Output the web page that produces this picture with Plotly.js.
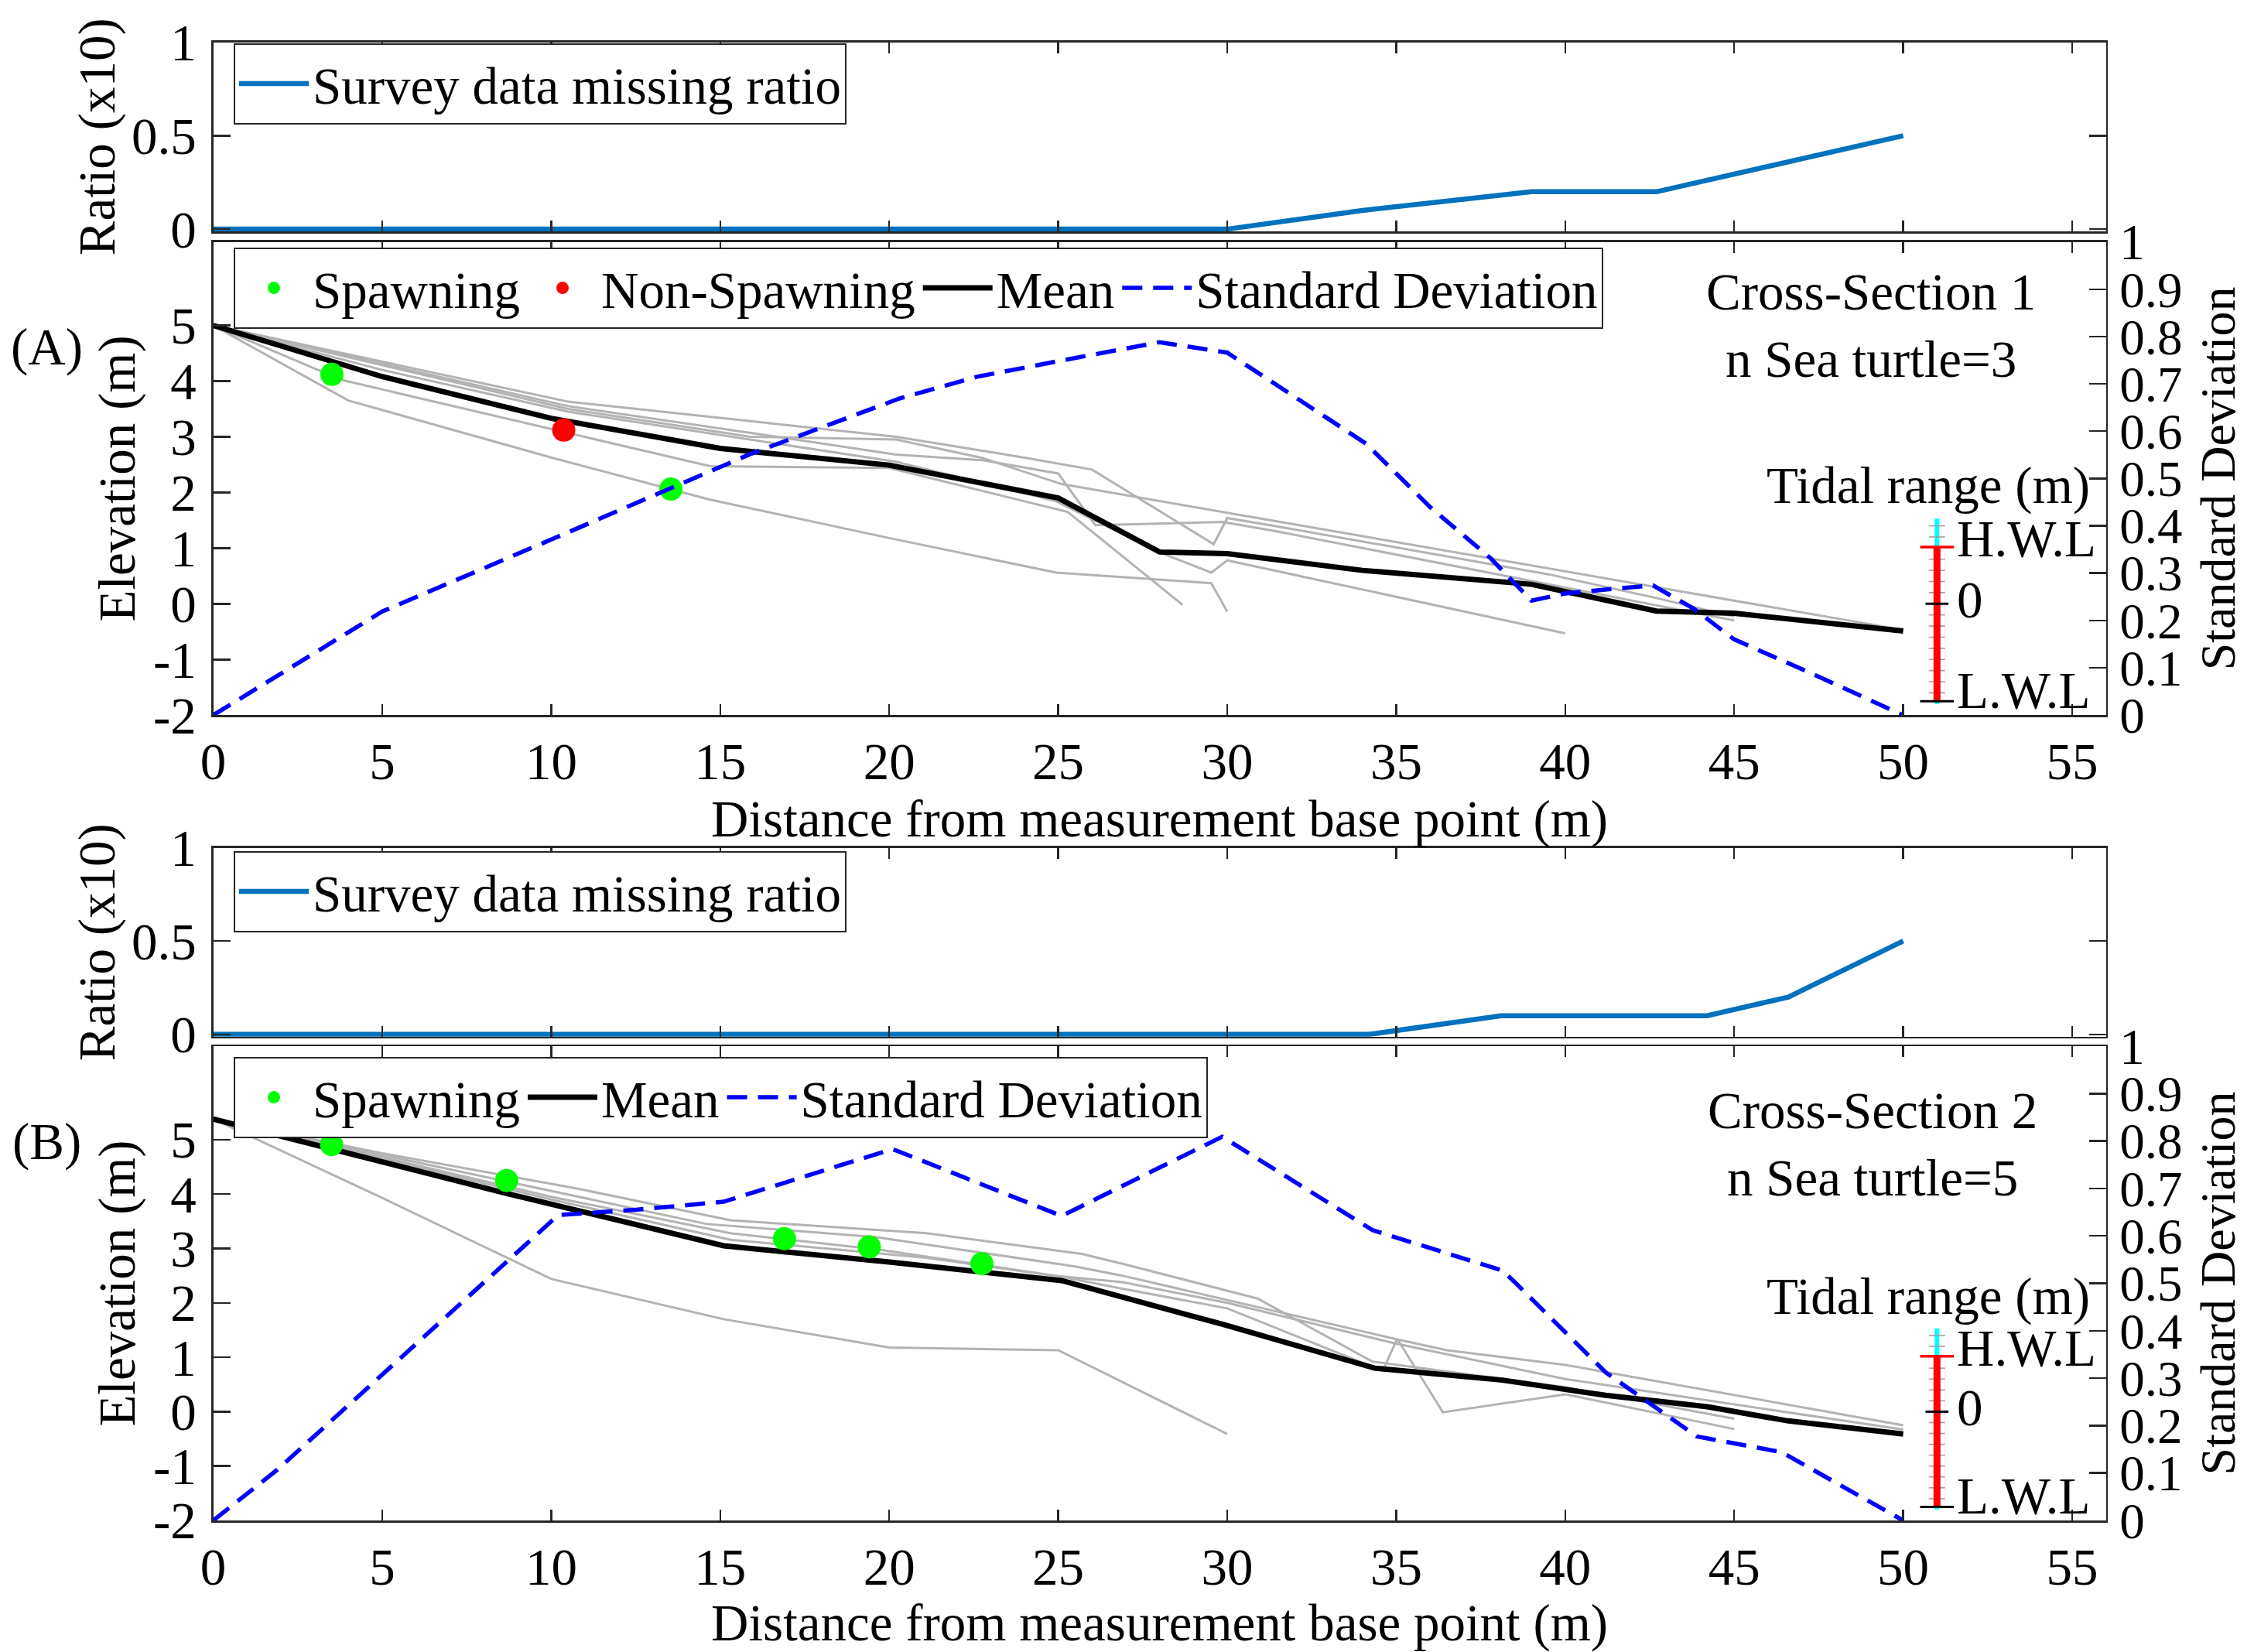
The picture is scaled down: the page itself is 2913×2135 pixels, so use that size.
<!DOCTYPE html>
<html><head><meta charset="utf-8">
<script src="https://cdn.plot.ly/plotly-3.0.1.min.js"></script>
<style>html,body{margin:0;padding:0;background:#fff}</style>
</head><body><div id="chart" style="width:2913px;height:2135px"></div>
<script>
// ---------------- DATA ----------------
const xTicks = [0,5,10,15,20,25,30,35,40,45,50,55];
const elevTicks = [-2,-1,0,1,2,3,4,5];
const elevTickText = ['-2','-1','0','1','2','3','4','5'];
const sdTicks = [0,0.1,0.2,0.3,0.4,0.5,0.6,0.7,0.8,0.9,1];
const sdTickText = ['0','0.1','0.2','0.3','0.4','0.5','0.6','0.7','0.8','0.9','1'];
const ratioTicks = [0,0.5,1];
const ratioTickText = ['0','0.5','1'];

// Cross-section 1 (A)
const ratioA_x = [0,30,34,39,42.7,50];
const ratioA_y = [0,0,0.1,0.2,0.2,0.5];
const meanA_x = [0,5,10,15,20,25,28,30,34,39,42.7,45,50];
const meanA_y = [5.0,4.08,3.33,2.79,2.49,1.90,0.93,0.90,0.60,0.35,-0.13,-0.17,-0.49];
const sdA_x = [0,5,10,13.6,15.9,20.3,22.6,25,28,30,32.2,34.1,36,37.8,39,40,41.3,42.6,43.8,45,47.1,50];
const sdA_y = [0,0.219,0.371,0.481,0.552,0.669,0.715,0.748,0.788,0.766,0.663,0.574,0.44,0.331,0.242,0.257,0.266,0.274,0.225,0.16,0.094,0];
const spawnA_x = [3.51,13.54];
const spawnA_y = [4.12,2.06];
const nonSpawnA_x = [10.37];
const nonSpawnA_y = [3.12];
const profA1_x = [0,10.5,15.9,20.2,22.75,24.14,26.0,29.6,30.0,31.47,39.5,42.72,45];
const profA1_y = [5.0,3.63,3.28,3.0,2.75,2.61,2.41,1.07,1.54,1.39,0.53,0.10,-0.23];
const profA2_x = [0,10.5,15.9,20.2,22.75,25.0,26.1,29.86,31.47,39.5,42.72,45];
const profA2_y = [5.0,3.55,3.07,2.68,2.58,2.34,1.41,1.47,1.30,0.35,-0.04,-0.30];
const profA3_x = [0,10.5,15.9,20.2,22.75,25.1,31.47,45,50];
const profA3_y = [5.0,3.5,3.0,2.95,2.62,2.15,1.48,0.05,-0.47];
const profA4_x = [0,3.8,14.7,20,25.28,28.68];
const profA4_y = [5.0,4.02,2.47,2.44,1.65,-0.02];
const profA5_x = [0,5,10.5,15.9,20.2,24.9,28.1,29.53,30,40];
const profA5_y = [5.0,4.2,3.45,2.95,2.55,1.85,0.90,0.56,0.78,-0.53];
const profA6_x = [0,4.0,10.1,14.7,20,24.94,29.53,30];
const profA6_y = [5.0,3.65,2.61,1.87,1.18,0.56,0.37,-0.14];

// Cross-section 2 (B)
const ratioB_x = [0,34.2,38.1,44.2,46.6,50];
const ratioB_y = [0,0,0.1,0.1,0.2,0.5];
const meanB_x = [0,3.55,8.63,15.1,20,25.1,29.9,34.36,38.14,41.2,44.2,46.6,50];
const meanB_y = [5.38,4.81,4.02,3.05,2.75,2.41,1.60,0.80,0.58,0.30,0.09,-0.17,-0.41];
const sdB_x = [0,1.88,10.21,12.5,15.1,20.1,25.1,29.85,34.3,38.14,38.5,41.2,43.9,46.4,50];
const sdB_y = [0,0.106,0.644,0.655,0.672,0.783,0.642,0.809,0.612,0.527,0.503,0.312,0.177,0.144,0];
const spawnB_x = [3.50,8.68,16.90,19.41,22.74];
const spawnB_y = [4.91,4.25,3.18,3.03,2.72];
const profB1_x = [0,5,10,15.1,20,25,30];
const profB1_y = [5.38,3.93,2.44,1.70,1.18,1.13,-0.41];
const profB2_x = [0,5,10.7,15.3,21.1,25.7,26.9,30.9,34.3,40,45];
const profB2_y = [5.38,4.75,4.11,3.52,3.28,2.90,2.72,2.08,0.92,0.45,-0.13];
const profB3_x = [0,5,10,14.6,19.6,25.5,26.9,34.95,36.5,40,50];
const profB3_y = [5.38,4.72,4.05,3.45,3.21,2.67,2.50,1.34,1.13,0.86,-0.25];
const profB4_x = [0,5,10,15.3,21.1,25.1,26.9,30,34.6,35.03,36.38,40,45];
const profB4_y = [5.38,4.65,3.9,3.16,2.83,2.48,2.26,1.9,0.75,1.34,-0.01,0.32,-0.32];
const profB5_x = [0,5,10,15.3,19.7,24.9,26.9,30,35,40,50];
const profB5_y = [5.38,4.68,3.95,3.28,2.98,2.50,2.38,2.0,1.25,0.6,-0.33];

// Tidal gauge (m)
const tidalX = 51;
const tidalHWL = 1.02;
const tidalLWL = -1.75;
const tidalTop = 1.53;
const tidalBottom = -1.8;
const tidalMinor = [-1.6,-1.4,-1.2,-1.0,-0.8,-0.6,-0.4,-0.2,0.2,0.4,0.6,0.8,1.2,1.4];

// ---------------- LAYOUT HELPERS ----------------
const W = 2913, H = 2135;
const FONT = 'Liberation Serif, Times New Roman, serif';
const FS = 67;
const AX = '#262626';
const fx = p => p / W;
const fy = p => 1 - p / H;
const xDom = [fx(275.6), fx(2721.7)];
const domRA = [fy(299), fy(54.6)];
const domMA = [fy(924.2), fy(312.6)];
const domRB = [fy(1339.7), fy(1095.6)];
const domMB = [fy(1965), fy(1352)];

const tf = {family: FONT, size: FS, color: '#000'};
const common = {showline: true, linecolor: AX, linewidth: 2.5, ticks: 'inside', tickcolor: AX,
  tickwidth: 2.5, showgrid: false, zeroline: false, tickfont: tf};

function xAx(anchor, labels, standoff) {
  return Object.assign({}, common, {domain: xDom, range: [0, 56], anchor: anchor, tickmode: 'array',
    tickvals: xTicks, ticktext: xTicks.map(String), showticklabels: labels, mirror: 'ticks', ticklen: 14,
    ticklabelstandoff: 0,
    title: labels ? {text: 'Distance from measurement base point (m)', font: tf, standoff: standoff} : {text: ''}});
}
function ratioY(anchor, dom) {
  return Object.assign({}, common, {domain: dom, range: [-0.012, 1], anchor: anchor, tickmode: 'array',
    tickvals: ratioTicks, ticktext: ratioTickText, mirror: 'ticks', ticklen: 22, ticklabelstandoff: 6,
    title: {text: 'Ratio (x10)', font: tf, standoff: 0}});
}
function elevY(anchor, dom, top) {
  return Object.assign({}, common, {domain: dom, range: [-2, top], anchor: anchor, tickmode: 'array',
    tickvals: elevTicks, ticktext: elevTickText, mirror: true, ticklen: 22, ticklabelstandoff: 6,
    title: {text: 'Elevation (m)', font: tf, standoff: 2}});
}
function sdY(anchor, over) {
  return Object.assign({}, common, {overlaying: over, side: 'right', range: [0, 1], anchor: anchor,
    tickmode: 'array', tickvals: sdTicks, ticktext: sdTickText, ticklen: 22, ticklabelstandoff: 2,
    tickfont: {family: FONT, size: 65, color: '#000'},
    title: {text: 'Standard Deviation', font: {family: FONT, size: 64, color: '#000'}, standoff: 24}});
}

// ---------------- TRACES ----------------
const traces = [];
const GRAY = {color: '#b3b3b3', width: 3};
function addProfiles(list, xa, ya) {
  list.forEach(p => traces.push({x: p[0], y: p[1], xaxis: xa, yaxis: ya, mode: 'lines', line: GRAY,
    showlegend: false, hoverinfo: 'skip'}));
}
function addTidal(xa, ya) {
  traces.push({x: [tidalX, tidalX], y: [tidalBottom, tidalTop], xaxis: xa, yaxis: ya, mode: 'lines',
    line: {color: '#00ffff', width: 6}, showlegend: false});
  const mx = [], my = [];
  tidalMinor.forEach(v => { mx.push(tidalX - 0.24, tidalX + 0.24, null); my.push(v, v, null); });
  traces.push({x: mx, y: my, xaxis: xa, yaxis: ya, mode: 'lines', line: {color: '#a0a0a0', width: 1.6},
    showlegend: false});
  traces.push({x: [tidalX, tidalX], y: [tidalLWL, tidalHWL], xaxis: xa, yaxis: ya, mode: 'lines',
    line: {color: '#ff0000', width: 9}, showlegend: false});
  traces.push({x: [tidalX - 0.34, tidalX + 0.34, null, tidalX - 0.5, tidalX + 0.5], y: [0, 0, null, tidalLWL, tidalLWL],
    xaxis: xa, yaxis: ya, mode: 'lines', line: {color: '#000', width: 3}, showlegend: false});
  traces.push({x: [tidalX - 0.5, tidalX + 0.5], y: [tidalHWL, tidalHWL], xaxis: xa, yaxis: ya, mode: 'lines',
    line: {color: '#ff0000', width: 3.5}, showlegend: false});
}

const SD_LINE = {color: '#0000ff', width: 5.5, dash: '26px,14px'};
const MEAN_LINE = {color: '#000', width: 7};
const RATIO_LINE = {color: '#0072BD', width: 6.5};

// A
traces.push({x: ratioA_x, y: ratioA_y, xaxis: 'x', yaxis: 'y', mode: 'lines', name: 'Survey data missing ratio',
  line: RATIO_LINE, legend: 'legend'});
addProfiles([[profA1_x, profA1_y],[profA2_x, profA2_y],[profA3_x, profA3_y],[profA4_x, profA4_y],[profA5_x, profA5_y],[profA6_x, profA6_y]], 'x2', 'y2');
addTidal('x2', 'y2');
traces.push({x: meanA_x, y: meanA_y, xaxis: 'x2', yaxis: 'y2', mode: 'lines', name: 'Mean',
  line: MEAN_LINE, legend: 'legend2', legendrank: 3});
traces.push({x: spawnA_x, y: spawnA_y, xaxis: 'x2', yaxis: 'y2', mode: 'markers', name: 'Spawning',
  marker: {color: '#00ff00', size: 30}, legend: 'legend2', legendrank: 1});
traces.push({x: nonSpawnA_x, y: nonSpawnA_y, xaxis: 'x2', yaxis: 'y2', mode: 'markers', name: 'Non-Spawning',
  marker: {color: '#ff0000', size: 30}, legend: 'legend2', legendrank: 2});
traces.push({x: sdA_x, y: sdA_y, xaxis: 'x2', yaxis: 'y3', mode: 'lines', name: 'Standard Deviation',
  line: SD_LINE, legend: 'legend2', legendrank: 4});

// B
traces.push({x: ratioB_x, y: ratioB_y, xaxis: 'x3', yaxis: 'y4', mode: 'lines', name: 'Survey data missing ratio',
  line: RATIO_LINE, legend: 'legend3'});
addProfiles([[profB1_x, profB1_y],[profB2_x, profB2_y],[profB3_x, profB3_y],[profB4_x, profB4_y],[profB5_x, profB5_y]], 'x4', 'y5');
addTidal('x4', 'y5');
traces.push({x: meanB_x, y: meanB_y, xaxis: 'x4', yaxis: 'y5', mode: 'lines', name: 'Mean',
  line: MEAN_LINE, legend: 'legend4', legendrank: 2});
traces.push({x: spawnB_x, y: spawnB_y, xaxis: 'x4', yaxis: 'y5', mode: 'markers', name: 'Spawning',
  marker: {color: '#00ff00', size: 30}, legend: 'legend4', legendrank: 1});
traces.push({x: sdB_x, y: sdB_y, xaxis: 'x4', yaxis: 'y6', mode: 'lines', name: 'Standard Deviation',
  line: SD_LINE, legend: 'legend4', legendrank: 3});

// ---------------- ANNOTATIONS ----------------
function tidalNotes(xr, yr) {
  const lx = tidalX + 0.55;
  return [
    {xref: xr, yref: yr, x: 55.57, y: 2.12, text: 'Tidal range (m)', xanchor: 'right', yanchor: 'middle', showarrow: false, font: tf},
    {xref: xr, yref: yr, x: lx, y: tidalHWL + 0.15, text: 'H.W.L', xanchor: 'left', yanchor: 'middle', showarrow: false, font: tf},
    {xref: xr, yref: yr, x: lx, y: 0.07, text: '0', xanchor: 'left', yanchor: 'middle', showarrow: false, font: tf},
    {xref: xr, yref: yr, x: lx, y: tidalLWL + 0.2, text: 'L.W.L', xanchor: 'left', yanchor: 'middle', showarrow: false, font: tf}
  ];
}
function note(xr, yr, x, y, t) {
  return {xref: xr, yref: yr, x: x, y: y, text: t, showarrow: false, font: tf, xanchor: 'center', yanchor: 'middle', align: 'center'};
}
const annotations = [
  {xref: 'paper', yref: 'paper', x: fx(60), y: fy(448), text: '(A)', showarrow: false, font: tf, xanchor: 'center', yanchor: 'middle'},
  {xref: 'paper', yref: 'paper', x: fx(60), y: fy(1475), text: '(B)', showarrow: false, font: tf, xanchor: 'center', yanchor: 'middle'},
  note('x2', 'y2', 49.05, 5.0, 'Cross-Section 1<br>n Sea turtle=3'),
  note('x4', 'y5', 49.1, 4.92, 'Cross-Section 2<br>n Sea turtle=5')
].concat(tidalNotes('x2', 'y2'), tidalNotes('x4', 'y5'));

function leg(xp, yp) {
  return {x: fx(xp), y: fy(yp), xanchor: 'left', yanchor: 'top', orientation: 'h', bgcolor: '#fff',
    bordercolor: AX, borderwidth: 2, font: tf, itemwidth: 90, traceorder: 'normal'};
}

const layout = {
  width: W, height: H, margin: {l: 0, r: 0, t: 0, b: 0}, paper_bgcolor: '#fff', plot_bgcolor: '#fff',
  font: tf, hovermode: false,
  xaxis: xAx('y', false, 0), yaxis: ratioY('x', domRA),
  xaxis2: xAx('y2', true, 8), yaxis2: elevY('x2', domMA, 6.5), yaxis3: sdY('x2', 'y2'),
  xaxis3: xAx('y4', false, 0), yaxis4: ratioY('x3', domRB),
  xaxis4: xAx('y5', true, 32), yaxis5: elevY('x4', domMB, 6.72), yaxis6: sdY('x4', 'y5'),
  legend: leg(302, 56), legend2: leg(302, 320), legend3: leg(302, 1100), legend4: leg(302, 1366),
  annotations: annotations
};

Plotly.newPlot('chart', traces, layout, {staticPlot: true, displayModeBar: false});
</script></body></html>
